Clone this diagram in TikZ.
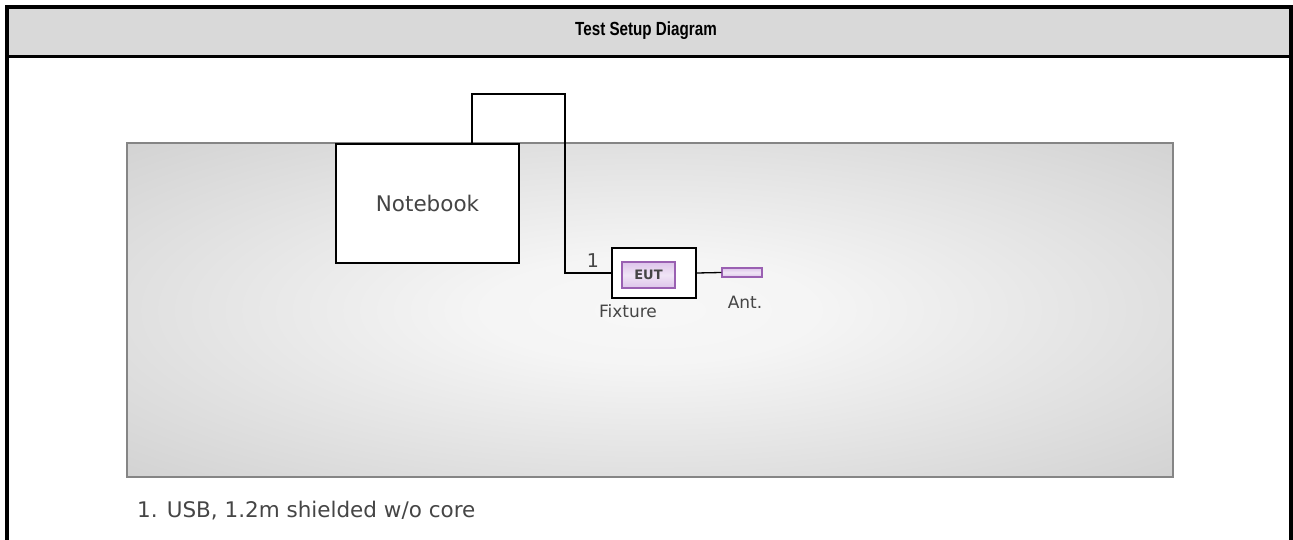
\documentclass[tikz,border=0pt]{standalone}
\usepackage{fontspec}
\setmainfont{Liberation Sans}
\newfontfamily\labelfont{DejaVu Sans}
\definecolor{headgray}{HTML}{D9D9D9}
\definecolor{edgegray}{HTML}{858585}
\definecolor{tablegray}{HTML}{D2D2D2}
\definecolor{eutfill}{HTML}{DDC4EA}
\definecolor{eutedge}{HTML}{9A60B2}
\definecolor{textgray}{HTML}{454545}
\pgfdeclareradialshading{tablefade}{\pgfpoint{0bp}{0bp}}{%
  color(0bp)=(white!97!black); color(8bp)=(white!96!black);
  color(36bp)=(tablegray); color(50bp)=(tablegray)}

\begin{document}
\begin{tikzpicture}[x=1pt,y=-1pt,
  box/.style={draw=black,line width=1.3pt,fill=white,inner sep=0pt},
  purplebox/.style={draw=eutedge,line width=1.2pt,top color=eutfill,bottom color=eutfill,middle color=white!55!eutfill,inner sep=0pt},
  lbl/.style={text=textgray,font=\labelfont\fontsize{#1}{#1}\selectfont,inner sep=0pt},
  cable/.style={line width=1.3pt}]
\useasboundingbox (0,0) rectangle (1293,540);
% frame and header
\fill[headgray] (7,7) rectangle (1291,56);
\draw[line width=4pt] (7,540) -- (7,7) -- (1291,7) -- (1291,540);
\draw[line width=3pt] (7,56.5) -- (1291,56.5);
\node[font=\bfseries\fontsize{19}{19}\selectfont,xscale=0.8] (title) at (646,31) {Test Setup Diagram};
% table
\shade[shading=tablefade] (127,143) rectangle (1173,477);
\draw[edgegray,line width=1.6pt] (127,143) rectangle (1173,477);

\node[box,minimum width=183pt,minimum height=119pt,lbl=21.5] (nb) at (427.5,203.5) {Notebook};
\node[box,minimum width=84pt,minimum height=50pt] (fix) at (654,273) {};
\node[purplebox,minimum width=53pt,minimum height=26pt,text=textgray,font=\labelfont\bfseries\fontsize{13}{13}\selectfont] (eut) at (648.5,275) {EUT};
\node[purplebox,minimum width=40pt,minimum height=9pt] (ant) at (742,272.5) {};

\node[lbl=17] (fixlbl) at (628,311) {Fixture};
\node[lbl=17] (antlbl) at (745,302) {Ant.};
\node[lbl=19] (cablenum) at (593,261) {1};
\node[lbl=21.5,anchor=west] (note) at (137,511) {1. USB, 1.2m shielded w/o core};

% usb cable
\coordinate (bend1) at (472,94);
\coordinate (bend2) at (565,94);
\draw[cable] (nb.north -| bend1) -- (bend1) -- (bend2) |- (fix.west);
\draw[cable] (fix.east) -- (ant.west);
\end{tikzpicture}
\end{document}
